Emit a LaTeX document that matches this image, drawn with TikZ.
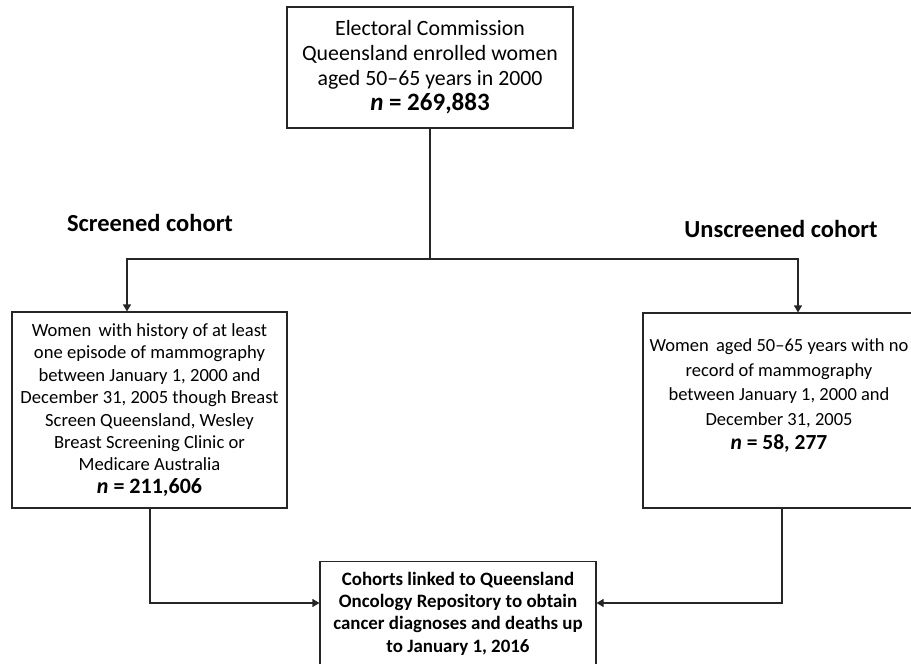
\documentclass[tikz,border=0pt]{standalone}
\usepackage{fontspec}
\setmainfont{Carlito}
\usetikzlibrary{arrows.meta,calc,positioning}

\begin{document}
\begin{tikzpicture}[x=1pt, y=-1pt, >={Triangle[length=7pt,width=8pt]},
  box/.style={draw=black!85, line width=1.1pt, inner sep=0pt},
  boxtext/.style={align=center, inner sep=0pt},
  lbl/.style={font=\fontsize{24.5}{26}\selectfont\bfseries},
  arr/.style={draw=black!85, line width=1.1pt}]
  \useasboundingbox (0,0) rectangle (911,664);

  % Boxes for the cohorts
  \node[box, minimum width=286pt, minimum height=121pt, boxtext,
        font=\fontsize{21.8}{25}\selectfont] (top) at (430,67.5)
    {Electoral Commission\\Queensland enrolled women\\aged 50--65 years in 2000\\
     {\fontsize{25}{25}\selectfont\textbf{\textit{n} = 269,883}}};

  \node[lbl] (scrlbl) at (150,223) {Screened cohort};
  \node[lbl] (unscrlbl) at (781,229) {Unscreened cohort};

  \node[box, minimum width=275pt, minimum height=196pt, boxtext,
        font=\fontsize{18.6}{22.4}\selectfont] (scr) at (149.5,410)
    {Women\, with history of at least\\one episode of mammography\\between January 1, 2000 and\\
     December 31, 2005 though Breast\\Screen Queensland, Wesley\\Breast Screening Clinic or\\
     Medicare Australia\\{\fontsize{22}{22.4}\selectfont\textbf{\textit{n} = 211,606}}};

  \node[box, minimum width=272pt, minimum height=195pt] (unscr) at (779,410.5) {};
  \node[boxtext, font=\fontsize{18.5}{24.5}\selectfont] (unscrtxt) at (779,396)
    {Women\, aged 50--65 years with no\\record of mammography\\between January 1, 2000 and\\
     December 31, 2005\\{\fontsize{21.5}{24.5}\selectfont\textbf{\textit{n} = 58, 277}}};

  \node[box, minimum width=276pt, minimum height=104pt, boxtext,
        font=\fontsize{18.9}{22.3}\selectfont\bfseries] (link) at (458,613.5)
    {Cohorts linked to Queensland\\Oncology Repository to obtain\\cancer diagnoses and deaths up\\
     to January 1, 2016};

  % Arrows
  \coordinate (split) at (430,259);
  \draw[arr] (top.south) -- (split);
  \draw[arr, ->] (split) -| ([xshift=-22.5pt]scr.north);
  \draw[arr, ->] (split) -| ([xshift=19pt]unscr.north);
  \draw[arr, ->] ([xshift=0.5pt]scr.south) |- ([yshift=10.5pt]link.west);
  \draw[arr, ->] ([xshift=3pt]unscr.south) |- ([yshift=10.5pt]link.east);
\end{tikzpicture}
\end{document}
